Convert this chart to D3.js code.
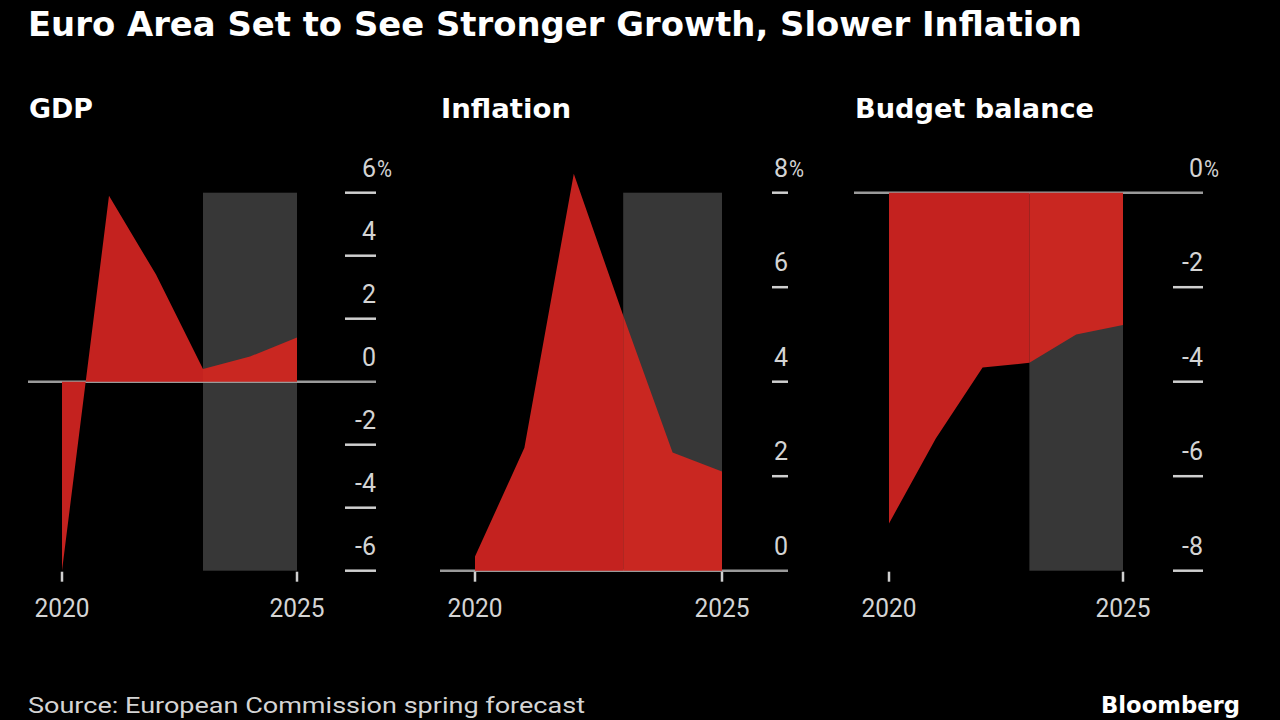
<!DOCTYPE html>
<html>
<head>
<meta charset="utf-8">
<script src="https://cdn.jsdelivr.net/npm/d3@7"></script>
<style>
  html, body { margin: 0; padding: 0; background: #000; }
  svg { display: block; }
</style>
</head>
<body>
<svg id="chart" width="1280" height="720"></svg>
<script>
// ---- data ----
const years = [2020, 2021, 2022, 2023, 2024, 2025];
const gdp = [-6.0, 5.9, 3.4, 0.4, 0.8, 1.4];
const inflation = [0.3, 2.6, 8.4, 5.4, 2.5, 2.1];
const budget = [-7.0, -5.2, -3.7, -3.6, -3.0, -2.8];
const gdpTicks = [6, 4, 2, 0, -2, -4, -6];
const inflationTicks = [8, 6, 4, 2, 0];
const budgetTicks = [0, -2, -4, -6, -8];
const yearLabels = [2020, 2025];
const forecastStart = 2023;
const panelTitles = ["GDP", "Inflation", "Budget balance"];

const title = "Euro Area Set to See Stronger Growth, Slower Inflation";
const source = "Source: European Commission spring forecast";

// ---- layout ----
const svg = d3.select("#chart");
svg.append("rect").attr("width", 1280).attr("height", 720).attr("fill", "#000");

const RED_ACT = "#c4221f", RED_FC = "#c92721", SHADE = "#373737";
const AXIS = "#9a9a9a", LABEL = "#d4d4d4";
const tickFont = "Roboto, 'Open Sans', sans-serif";

const panels = [
  { name: panelTitles[0], values: gdp, ticks: gdpTicks, domain: [-6, 6],
    left: 28, right: 376, x0: 62, x1: 297, tickLen: 31, baseVal: 0, titleW: 64 },
  { name: panelTitles[1], values: inflation, ticks: inflationTicks, domain: [0, 8],
    left: 440, right: 788, x0: 475, x1: 722, tickLen: 16, baseVal: 0, titleW: 130 },
  { name: panelTitles[2], values: budget, ticks: budgetTicks, domain: [-8, 0],
    left: 854, right: 1203, x0: 889, x1: 1123, tickLen: 30, baseVal: 0, titleW: 239 }
];
const yTop = 192.7, yBottom = 570.7;

// title
const t = svg.append("text").attr("x", 28).attr("y", 36)
  .attr("font-family", "'DejaVu Sans', Verdana, sans-serif").attr("font-weight", "bold")
  .attr("font-size", 31).attr("fill", "#fff").text(title);
{
  const w = t.node().getComputedTextLength();
  t.attr("font-size", 31 * 1054 / w);
}

panels.forEach(p => {
  const g = svg.append("g");
  const x = d3.scaleLinear().domain([years[0], years[years.length - 1]]).range([p.x0, p.x1]);
  const y = d3.scaleLinear().domain(p.domain).range([yBottom, yTop]);

  // panel title
  g.append("text").attr("x", p.left + 1).attr("y", 118)
    .attr("font-family", "'DejaVu Sans', Verdana, sans-serif").attr("font-weight", "bold")
    .attr("font-size", 27).attr("fill", "#fff")
    .attr("textLength", p.titleW).attr("lengthAdjust", "spacingAndGlyphs").text(p.name);

  // forecast shading
  g.append("rect")
    .attr("x", x(forecastStart)).attr("y", yTop)
    .attr("width", x(years[years.length - 1]) - x(forecastStart))
    .attr("height", yBottom - yTop).attr("fill", SHADE);

  // baseline / zero line
  g.append("line").attr("x1", p.left).attr("x2", p.right)
    .attr("y1", y(p.baseVal)).attr("y2", y(p.baseVal))
    .attr("stroke", AXIS).attr("stroke-width", 2.5);

  // area
  const pts = years.map((yr, i) => ({ yr, v: p.values[i] }));
  const area = d3.area().x(d => x(d.yr)).y0(y(p.baseVal)).y1(d => y(d.v));
  g.append("path").datum(pts.filter(d => d.yr <= forecastStart))
    .attr("d", area).attr("fill", RED_ACT);
  g.append("path").datum(pts.filter(d => d.yr >= forecastStart))
    .attr("d", area).attr("fill", RED_FC);

  // y ticks and labels
  p.ticks.forEach((tv, i) => {
    if (tv !== p.baseVal) {
      g.append("line").attr("x1", p.right - p.tickLen).attr("x2", p.right)
        .attr("y1", y(tv)).attr("y2", y(tv))
        .attr("stroke", "#cfcfcf").attr("stroke-width", 2.5);
    }
    g.append("text").attr("x", p.right).attr("y", y(tv) - 16)
      .attr("text-anchor", "end").attr("font-family", tickFont)
      .attr("font-size", 25).attr("fill", LABEL).text(tv);
    if (i === 0) {
      g.append("text").attr("x", p.right + 1).attr("y", y(tv) - 16)
        .attr("font-family", tickFont).attr("font-size", 23)
        .attr("fill", LABEL).attr("textLength", 15).attr("lengthAdjust", "spacingAndGlyphs")
        .text("%");
    }
  });

  // x ticks and labels
  yearLabels.forEach(yr => {
    g.append("line").attr("x1", x(yr)).attr("x2", x(yr))
      .attr("y1", yBottom + 1).attr("y2", yBottom + 11)
      .attr("stroke", "#cfcfcf").attr("stroke-width", 2.5);
    g.append("text").attr("x", x(yr)).attr("y", 617)
      .attr("text-anchor", "middle").attr("font-family", tickFont)
      .attr("font-size", 26).attr("fill", LABEL)
      .attr("textLength", 55).attr("lengthAdjust", "spacingAndGlyphs").text(yr);
  });
});

// footer
svg.append("text").attr("x", 28).attr("y", 713)
  .attr("font-family", tickFont).attr("font-size", 22)
  .attr("fill", LABEL).attr("textLength", 557).attr("lengthAdjust", "spacingAndGlyphs")
  .text(source);
svg.append("text").attr("x", 1101).attr("y", 713)
  .attr("font-family", "'DejaVu Sans', sans-serif").attr("font-weight", "bold")
  .attr("font-size", 23).attr("fill", "#fff")
  .attr("textLength", 139).attr("lengthAdjust", "spacingAndGlyphs")
  .text("Bloomberg");
</script>
</body>
</html>
